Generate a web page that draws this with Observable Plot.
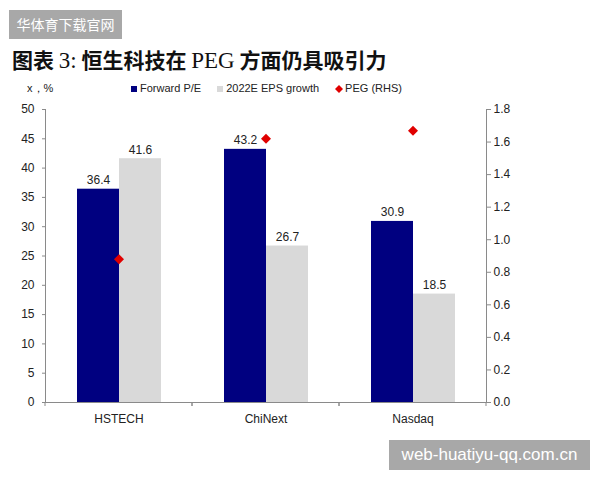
<!DOCTYPE html>
<html><head><meta charset="utf-8">
<script src="https://cdn.jsdelivr.net/npm/d3@7"></script>
<script src="https://cdn.jsdelivr.net/npm/@observablehq/plot@0.6"></script>
<style>
body{margin:0;background:#fff;width:600px;height:480px;position:relative;overflow:hidden;font-family:"Liberation Sans",Arial,sans-serif;color:#222}
#wm1{position:absolute;left:9px;top:10px;width:113px;height:29px;background:#a8a8a8;color:#fff;font:14px "Noto Sans CJK SC",sans-serif;line-height:29px;text-align:center}
#title{position:absolute;left:12px;top:46px;font:bold 21px "Noto Sans CJK SC",sans-serif;line-height:26px;color:#111;white-space:nowrap}
#title .serif{font-family:"Liberation Serif",serif;font-weight:normal;font-size:23px}
#unit{position:absolute;left:27px;top:82px;font-size:11px;line-height:13px}
#legend{position:absolute;left:131px;top:82px;font-size:11px;line-height:13px;display:flex;gap:0;white-space:nowrap}
#legend .item{display:flex;align-items:center;margin-right:16px}
#legend .sw{display:inline-block;width:6px;height:6px;margin-right:3px}
#chart{position:absolute;left:0;top:95px}
#wm2{position:absolute;left:389px;top:440px;width:201px;height:30px;background:#a8a8a8;color:#fff;font-size:17px;line-height:30px;text-align:center}
</style></head><body>
<div id="wm1">华体育下载官网</div>
<div id="title">图表 <span class="serif">3:</span> 恒生科技在 <span class="serif">PEG</span> 方面仍具吸引力</div>
<div id="unit">x，%</div>
<div id="legend"></div>
<div id="chart"></div>
<div id="wm2">web-huatiyu-qq.com.cn</div>
<script>
const categories = ["HSTECH", "ChiNext", "Nasdaq"];
const series = ["Forward P/E", "2022E EPS growth"];
const forwardPE = [36.4, 43.2, 30.9];
const epsGrowth = [41.6, 26.7, 18.5];
const peg = [0.88, 1.62, 1.67];
const pegLabel = "PEG (RHS)";
const leftTicks = [0, 5, 10, 15, 20, 25, 30, 35, 40, 45, 50];
const rightTicks = [0, 0.2, 0.4, 0.6, 0.8, 1.0, 1.2, 1.4, 1.6, 1.8];
const colors = ["#000080", "#d9d9d9"];
const pegColor = "#e00000";

const bars = categories.flatMap((c, i) => [
  {cat: c, series: series[0], value: forwardPE[i]},
  {cat: c, series: series[1], value: epsGrowth[i]}
]);
const pegData = categories.map((c, i) => ({cat: c, peg: peg[i]}));
const k = 50 / 1.8;

// legend
const legend = document.getElementById("legend");
series.forEach((s, i) => {
  legend.insertAdjacentHTML("beforeend",
    `<span class="item"><span class="sw" style="background:${colors[i]}"></span>${s}</span>`);
});
legend.insertAdjacentHTML("beforeend",
  `<span class="item"><svg width="8" height="8" style="margin-right:2px"><path d="M4 0L8 4L4 8L0 4Z" fill="${pegColor}"/></svg>${pegLabel}</span>`);

const axisColor = "#8a8a8a";
const boundaryTicks = (index, scales, values, dims) => {
  const g = d3.create("svg:g");
  const x = scales.x;
  const r = x.range();
  const y0 = scales.y(0);
  for (const xx of r) {
    g.append("line").attr("x1", xx).attr("x2", xx).attr("y1", y0).attr("y2", y0 + 4)
      .attr("stroke", axisColor);
  }
  return g.node();
};

const chart = Plot.plot({
  width: 600, height: 340,
  marginLeft: 45, marginRight: 114, marginTop: 14, marginBottom: 33,
  style: {fontFamily: '"Liberation Sans", Arial, sans-serif', color: "#222"},
  fx: {domain: categories, padding: 0, label: null},
  x: {domain: series, paddingInner: 0, paddingOuter: 0.75, axis: null},
  y: {domain: [0, 50], axis: null},
  color: {domain: series, range: colors},
  marks: [
    Plot.barY(bars, {fx: "cat", x: "series", y: "value", fill: "series"}),
    Plot.text(bars, {fx: "cat", x: "series", y: "value", text: d => d.value.toFixed(1),
      lineAnchor: "bottom", dy: -5, fontSize: 12, fill: "#222"}),
    Plot.dot(pegData, {fx: "cat", y: d => d.peg * k, symbol: "diamond2", r: 4.5, fill: pegColor, stroke: "none"}),
    Plot.ruleY([0], {stroke: axisColor}),
    Plot.frame({anchor: "left", facetAnchor: "left", stroke: axisColor}),
    Plot.frame({anchor: "right", facetAnchor: "right", stroke: axisColor}),
    boundaryTicks,
    Plot.axisY({anchor: "left", ticks: leftTicks, tickSize: 3, tickPadding: 8, label: null, fontSize: 12, stroke: axisColor, color: "#222"}),
    Plot.axisY({anchor: "right", ticks: rightTicks.map(v => v * k), tickFormat: d => (d / k).toFixed(1),
      tickSize: 4, tickPadding: 3, label: null, fontSize: 12, stroke: axisColor}),
    Plot.axisFx({anchor: "bottom", tickSize: 0, tickPadding: 12, label: null, fontSize: 12})
  ]
});
document.getElementById("chart").appendChild(chart);
</script>
</body></html>
